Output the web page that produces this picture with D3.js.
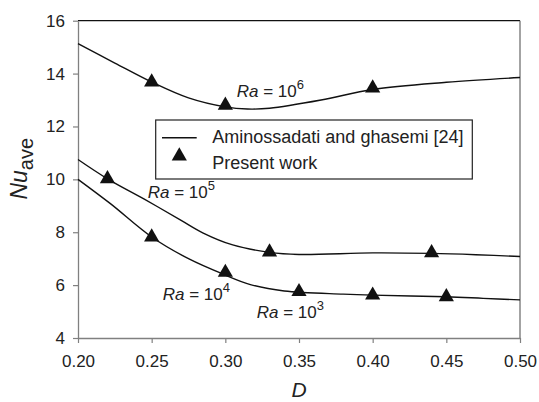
<!DOCTYPE html>
<html>
<head>
<meta charset="utf-8">
<script src="https://cdn.jsdelivr.net/npm/d3@7"></script>
<style>
  body { margin: 0; background: #fff; }
  svg { font-family: "Liberation Sans", Arial, sans-serif; }
  .tick text { font-size: 17px; fill: #222; }
</style>
</head>
<body>
<div id="chart"></div>
<script>
// Ra = 10^6 curve (Aminossadati and ghasemi)
const ra6D = [0.20, 0.225, 0.25, 0.275, 0.30, 0.315, 0.33, 0.365, 0.40, 0.45, 0.50];
const ra6Nu = [15.13, 14.4, 13.68, 13.08, 12.74, 12.66, 12.69, 13.0, 13.4, 13.67, 13.85];
// Ra = 10^5 curve
const ra5D = [0.20, 0.22, 0.245, 0.27, 0.285, 0.305, 0.33, 0.35, 0.40, 0.44, 0.47, 0.50];
const ra5Nu = [10.75, 10.02, 9.25, 8.45, 7.97, 7.52, 7.24, 7.16, 7.22, 7.2, 7.15, 7.08];
// Ra = 10^4 and 10^3 (same curve)
const ra4D = [0.20, 0.222, 0.25, 0.275, 0.30, 0.317, 0.34, 0.38, 0.40, 0.45, 0.475, 0.50];
const ra4Nu = [10.0, 9.08, 7.82, 7.0, 6.38, 6.02, 5.78, 5.66, 5.62, 5.56, 5.5, 5.44];

// Present work (triangles)
const pw6D = [0.25, 0.30, 0.40];
const pw6Nu = [13.68, 12.8, 13.45];
const pw5D = [0.22, 0.33, 0.44];
const pw5Nu = [10.02, 7.25, 7.22];
const pw4D = [0.25, 0.30, 0.35, 0.40, 0.45];
const pw4Nu = [7.82, 6.48, 5.75, 5.62, 5.56];

const xTicks = [0.20, 0.25, 0.30, 0.35, 0.40, 0.45, 0.50];
const yTicks = [4, 6, 8, 10, 12, 14, 16];

// label anchors in data units: [D, Nu, exponent]
const raLabels = [[0.3077, 13.13, "6"], [0.2473, 9.29, "5"], [0.2575, 5.44, "4"], [0.3213, 4.75, "3"]];
const legendLabels = ["Aminossadati and ghasemi [24]", "Present work"];

const W = 539, H = 402;
const margin = { top: 20.7, right: 19, bottom: 64, left: 78 },
    width = W - margin.left - margin.right,
    height = H - margin.top - margin.bottom;

const svg = d3.select("#chart").append("svg")
    .attr("width", W)
    .attr("height", H)
    .append("g")
    .attr("transform", `translate(${margin.left},${margin.top})`);

const x = d3.scaleLinear().domain([0.20, 0.50]).range([0, width]);
const y = d3.scaleLinear().domain([4, 16]).range([height, 0]);

// frame: top and right
svg.append("line").attr("x1", 0).attr("x2", width).attr("y1", 0).attr("y2", 0)
    .attr("stroke", "#111").attr("stroke-width", 1.2);
svg.append("line").attr("x1", width).attr("x2", width).attr("y1", 0).attr("y2", height)
    .attr("stroke", "#666").attr("stroke-width", 1.2);

// axes
const xAxis = svg.append("g")
    .attr("transform", `translate(0,${height})`)
    .call(d3.axisBottom(x).tickValues(xTicks).tickFormat(d3.format(".2f")).tickSize(5).tickPadding(12).tickSizeOuter(0));
const yAxis = svg.append("g")
    .call(d3.axisLeft(y).tickValues(yTicks).tickSize(5).tickPadding(8).tickSizeOuter(0));
[xAxis, yAxis].forEach(a => {
    a.select(".domain").attr("stroke", "#808080").attr("stroke-width", 1.3);
    a.selectAll(".tick line").attr("stroke", "#808080").attr("stroke-width", 1.2);
});

// axis titles
svg.append("text")
    .attr("x", x(0.35))
    .attr("y", height + 59)
    .attr("text-anchor", "middle")
    .style("font-size", "21px")
    .style("font-style", "italic")
    .attr("fill", "#222")
    .text("D");

const yt = svg.append("text")
    .attr("transform", `translate(${-51},${y(10.4)}) rotate(-90)`)
    .attr("text-anchor", "middle")
    .attr("fill", "#222")
    .style("font-size", "23px");
yt.append("tspan").style("font-style", "italic").text("Nu");
yt.append("tspan").attr("dy", 6).style("font-size", "20px").text("ave");

// curves
const line = d3.line()
    .x(d => x(d[0]))
    .y(d => y(d[1]))
    .curve(d3.curveCatmullRom.alpha(0.5));

[[ra6D, ra6Nu], [ra5D, ra5Nu], [ra4D, ra4Nu]].forEach(([ds, ns]) => {
    svg.append("path")
        .datum(ds.map((d, i) => [d, ns[i]]))
        .attr("fill", "none")
        .attr("stroke", "#111")
        .attr("stroke-width", 1.4)
        .attr("d", line);
});

// triangles
const tri = d3.symbol().type(d3.symbolTriangle).size(100);
[[pw6D, pw6Nu], [pw5D, pw5Nu], [pw4D, pw4Nu]].forEach(([ds, ns]) => {
    svg.selectAll(null)
        .data(ds.map((d, i) => [d, ns[i]]))
        .enter().append("path")
        .attr("d", tri)
        .attr("transform", d => `translate(${x(d[0])},${y(d[1])})`)
        .attr("fill", "#111");
});

// Ra labels
raLabels.forEach(([d, n, e]) => {
    const t = svg.append("text")
        .attr("x", x(d))
        .attr("y", y(n))
        .attr("fill", "#222")
        .style("font-size", "17px");
    t.append("tspan").style("font-style", "italic").text("Ra");
    t.append("tspan").text(" = 10");
    t.append("tspan").attr("dy", -8).style("font-size", "13px").text(e);
});

// legend
const lg = svg.append("g").attr("transform", `translate(${155.7 - margin.left},${120 - margin.top})`);
lg.append("rect")
    .attr("width", 316.6)
    .attr("height", 59)
    .attr("fill", "#fff")
    .attr("stroke", "#222")
    .attr("stroke-width", 1.2);
lg.append("line")
    .attr("x1", 6.3).attr("x2", 41).attr("y1", 17.7).attr("y2", 17.7)
    .attr("stroke", "#111").attr("stroke-width", 1.4);
lg.append("path")
    .attr("d", tri)
    .attr("transform", "translate(23.6,36)")
    .attr("fill", "#111");
lg.selectAll("text.lab")
    .data(legendLabels)
    .enter().append("text")
    .attr("class", "lab")
    .attr("x", 56.6)
    .attr("y", (d, i) => 23.3 + i * 25.7)
    .attr("fill", "#222")
    .style("font-size", "18px")
    .text(d => d);
</script>
</body>
</html>
